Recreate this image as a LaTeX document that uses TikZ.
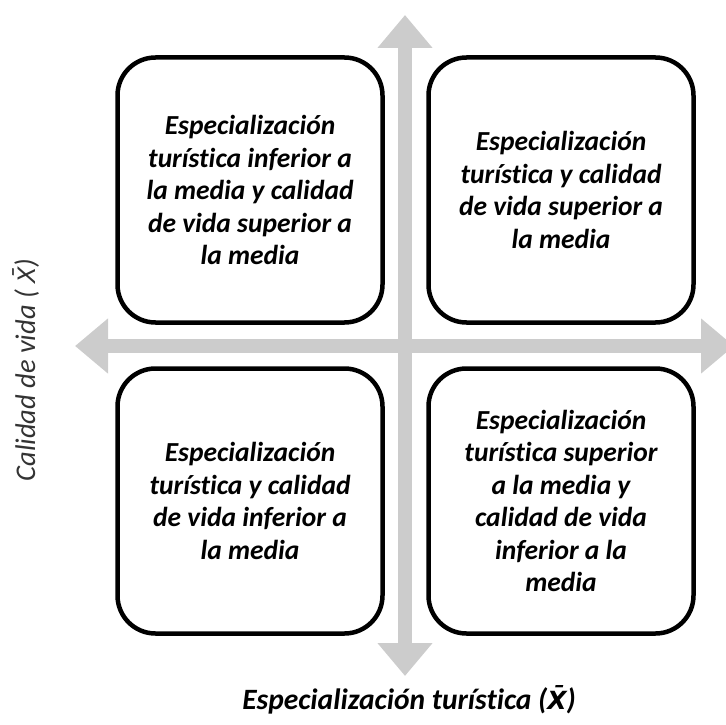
\documentclass[tikz,border=0pt]{standalone}
\usepackage{fontspec}
\setmainfont{Carlito}[Ligatures=NoCommon]
\newfontfamily\dejavu{DejaVu Sans}
\usetikzlibrary{arrows.meta}
\definecolor{axisgray}{RGB}{204,204,204}

\begin{document}
\begin{tikzpicture}[x=1pt, y=-1pt,
    quadrant/.style={draw, rounded corners=38pt, line width=4.5pt, minimum width=265pt, minimum height=265pt, inner sep=0pt, align=center, font=\fontsize{27.5}{32.5}\selectfont\bfseries\itshape},
    axis/.style={draw=axisgray, line width=14pt, {Triangle[length=33pt, width=53pt]}-{Triangle[length=33pt, width=53pt]}},
    axislabel/.style={inner sep=0pt, font=\fontsize{29.5}{34}\selectfont\bfseries\itshape}]
    \useasboundingbox (0, 0) rectangle (726, 725);

    % Axes
    \coordinate (top) at (405, 15);
    \coordinate (bottom) at (405, 676);
    \coordinate (left) at (75, 346);
    \coordinate (right) at (734, 346);

    \draw[axis] (bottom) -- (top);
    \draw[axis] (left) -- (right);

    % Quadrants
    \node[quadrant] at (250, 190) (tl) {Especialización\\turística inferior a\\la media y calidad\\de vida superior a\\la media};
    \node[quadrant] at (561, 190) (tr) {Especialización\\turística y calidad\\de vida superior a\\la media};
    \node[quadrant] at (250, 501) (bl) {Especialización\\turística y calidad\\de vida inferior a\\la media};
    \node[quadrant] at (561, 501) (br) {Especialización\\turística superior\\a la media y\\calidad de vida\\inferior a la\\media};

    % Labels
    \node[axislabel] at (409, 700) (xlabel) {Especialización turística ({\dejavu\fontsize{25}{30}\selectfont X̄})};
    \node[axislabel, rotate=90, font=\fontsize{28.5}{33}\selectfont\itshape, text=black!80] at (26, 370) (ylabel) {Calidad de vida ( {\dejavu\fontsize{24}{29}\selectfont X̄})};

  \end{tikzpicture}
\end{document}
